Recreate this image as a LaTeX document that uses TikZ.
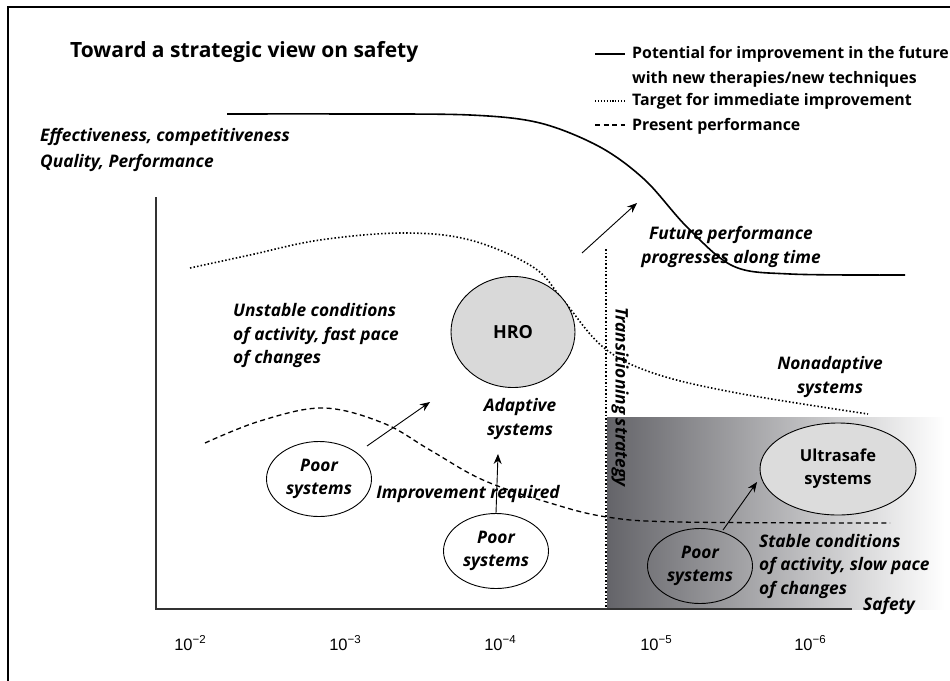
\documentclass[tikz,border=0pt]{standalone}
\usepackage{fontspec}
\setmainfont{Open Sans}
\newfontfamily\tickfont{Liberation Sans}
\usetikzlibrary{arrows.meta,shapes.geometric}
\definecolor{hrofill}{RGB}{217,217,217}
\definecolor{ultrafill}{RGB}{220,220,220}
\definecolor{graddark}{RGB}{100,100,105}
\begin{document}
\begin{tikzpicture}[x=1pt,y=-1pt,
  lab/.style={font=\fontsize{17.3}{23.5}\selectfont\bfseries\itshape, align=center, inner sep=0pt},
  labl/.style={lab, align=left},
  leg/.style={font=\fontsize{15.9}{24}\selectfont\bfseries, anchor=base west, inner sep=0pt},
  tick/.style={font=\fontsize{16.5}{18}\selectfont\tickfont, inner sep=0pt},
  sys/.style={draw, ellipse, line width=0.9pt, inner sep=0pt},
  arr/.style={-{Stealth[length=10pt,width=8pt]}, line width=0.9pt},
  solidc/.style={line width=1.6pt},
  dotc/.style={line width=1.6pt, dash pattern=on 1.5pt off 2.1pt},
  dotl/.style={line width=1.1pt, dash pattern=on 1.1pt off 1.8pt},
  dashc/.style={line width=1.3pt, dash pattern=on 5pt off 3.5pt},
]
\useasboundingbox (0,0) rectangle (950,680);
% frame (only top and left visible)
\draw[line width=1.5pt] (8,690) -- (8,7) -- (960,7);

% gradient area
\shade[left color=graddark, right color=white]
  (607,417) rectangle (945,609);

% title
\node[font=\fontsize{21}{24}\selectfont\bfseries, anchor=base west, inner sep=0pt] (title) at (70,57) {Toward a strategic view on safety};

% legend
\node[leg] (l1) at (632,58) {Potential for improvement in the future};
\node[leg] (l1b) at (632,83) {with new therapies/new techniques};
\node[leg] (l2) at (632,105) {Target for immediate improvement};
\node[leg] (l3) at (632,130) {Present performance};
\coordinate (s1) at (595,54); \coordinate (e1) at (625,54);
\coordinate (s2) at (595,101); \coordinate (e2) at (625,101);
\coordinate (s3) at (595,125); \coordinate (e3) at (625,125);
\draw[solidc] (s1) -- (e1);
\draw[dotl] (s2) -- (e2);
\draw[dashc] (s3) -- (e3);

% y-axis labels
\node[lab, anchor=base west] (ylab1) at (40,141) {Effectiveness, competitiveness};
\node[lab, anchor=base west] (ylab2) at (40,167) {Quality, Performance};

% axes
\coordinate (ytop) at (156,197);
\coordinate (orig) at (156,609);
\coordinate (xend) at (852,609);
\draw[line width=1.5pt, black!80] (ytop) -- (orig) -- (xend);
\node[lab, anchor=base] (safety) at (889,610) {Safety};

% ticks
\node[tick] (t2) at (190,643) {10\raisebox{0.42em}{\fontsize{11.5}{12}\selectfont −2}};
\node[tick] (t3) at (345,643) {10\raisebox{0.42em}{\fontsize{11.5}{12}\selectfont −3}};
\node[tick] (t4) at (500,643) {10\raisebox{0.42em}{\fontsize{11.5}{12}\selectfont −4}};
\node[tick] (t5) at (656,643) {10\raisebox{0.42em}{\fontsize{11.5}{12}\selectfont −5}};
\node[tick] (t6) at (810,643) {10\raisebox{0.42em}{\fontsize{11.5}{12}\selectfont −6}};

% curves
\draw[solidc] plot[smooth, tension=0.55] coordinates {(227,114) (350,114) (470,115) (540,123) (600,147) (645,180) (687,227) (733,266) (790,274) (905,275)};
\draw[dotc] plot[smooth, tension=0.6] coordinates {(190,268) (250,255) (320,240) (403,233) (470,240) (533,267) (563,300) (603,347) (653,373) (737,393) (868,414)};
\draw[dashc] plot[smooth, tension=0.6] coordinates {(205,443) (260,421) (323,408) (383,423) (430,450) (483,480) (550,503) (607,517) (680,522) (890,523)};

% transition line
\coordinate (tr1) at (606,249);
\coordinate (tr2) at (606,609);
\draw[dotc] (tr1) -- (tr2);
\node[lab, rotate=-90] (trans) at (620,397) {Transitioning strategy};

% systems
\node[sys, fill=hrofill, minimum width=124pt, minimum height=111pt, font=\fontsize{18}{20}\selectfont\bfseries] (hro) at (513,332) {HRO};
\node[sys, minimum width=105pt, minimum height=75pt, lab] (p1) at (319,479) {Poor\\systems};
\node[sys, minimum width=105pt, minimum height=75pt, lab] (p2) at (496,551) {Poor\\systems};
\node[sys, minimum width=105pt, minimum height=75pt, lab] (p3) at (700,566) {Poor\\systems};
\node[sys, fill=ultrafill, minimum width=156pt, minimum height=92pt, font=\fontsize{16.5}{23}\selectfont\bfseries, align=center] (ultra) at (838,469) {Ultrasafe\\systems};

% texts
\node[labl, anchor=west] (unst) at (233,336) {Unstable conditions\\of activity, fast pace\\of changes};
\node[lab] (adapt) at (520,419) {Adaptive\\systems};
\node[lab, anchor=base] (impr) at (468,498) {Improvement required};
\node[lab] (nonad) at (830,377) {Nonadaptive\\systems};
\node[labl, anchor=west] (stable) at (759,566) {Stable conditions\\of activity, slow pace\\of changes};
\node[lab] (fut) at (731,247) {Future performance\\progresses along time};

% arrows
\coordinate (a1s) at (367,446); \coordinate (a1e) at (430,402);
\draw[arr] (a1s) -- (a1e);
\coordinate (a2e) at (498,454);
\draw[arr] (p2.north) -- (a2e);
\coordinate (a3s) at (723,530); \coordinate (a3e) at (757,482);
\draw[arr] (a3s) -- (a3e);
\coordinate (a4s) at (582,253); \coordinate (a4e) at (637,203);
\draw[arr] (a4s) -- (a4e);
\end{tikzpicture}
\end{document}
